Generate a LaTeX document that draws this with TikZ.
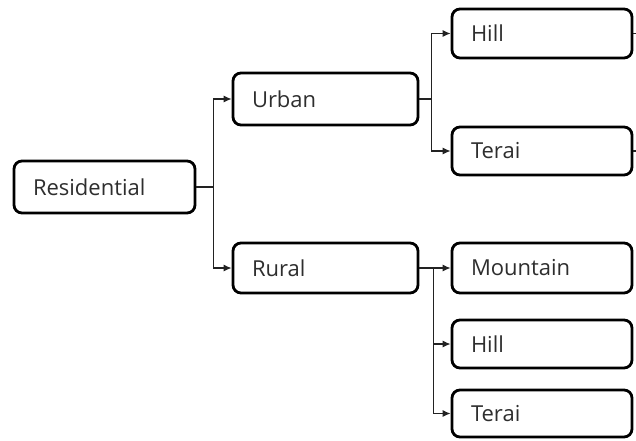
\documentclass[tikz,border=0pt]{standalone}
\usepackage{fontspec}
\setmainfont{Open Sans}
\usetikzlibrary{arrows.meta}
\definecolor{txt}{HTML}{2E2E2E}
\definecolor{ln}{HTML}{222222}
\tikzset{
  box/.style={draw=black, rounded corners=8pt, line width=2.8pt, fill=white,
    inner xsep=19pt, inner ysep=0pt, align=left, text=txt,
    font=\fontsize{22}{25}\selectfont},
  wbox/.style={box, text width=147pt, minimum width=185pt},
  rbox/.style={box, text width=142pt, minimum width=180pt},
  conn/.style={draw=ln, line width=1.2pt, -{Latex[length=8pt,width=7pt]}},
  plain/.style={draw=ln, line width=1.2pt}
}
\begin{document}
\begin{tikzpicture}[x=1pt,y=1pt]
\useasboundingbox (0,0) rectangle (636,440);
\node[box, text width=143pt, minimum width=181pt, minimum height=52pt] (res) at (104.5,253) {Residential};
\node[wbox, minimum height=52pt] (urban) at (325.5,341) {Urban};
\node[wbox, minimum height=50pt] (rural) at (325.5,172) {Rural};
\node[rbox, minimum height=49pt] (hill1) at (542,406.5) {Hill};
\node[rbox, minimum height=48pt] (terai1) at (542,289) {Terai};
\node[rbox, minimum height=50pt] (mount) at (542,172) {Mountain};
\node[rbox, minimum height=48pt] (hill2) at (542,96) {Hill};
\node[rbox, minimum height=47pt] (terai2) at (542,26.5) {Terai};
\coordinate (s1) at (636,406.5);
\coordinate (s2) at (636,289);
\draw[conn] (res.east) -- ++(17,0) |- (urban.west);
\draw[conn] (res.east) -- ++(17,0) |- (rural.west);
\draw[conn] (urban.east) -- ++(12,0) |- (hill1.west);
\draw[conn] (urban.east) -- ++(12,0) |- (terai1.west);
\draw[conn] (rural.east) -- (mount.west);
\draw[conn] (rural.east) -- ++(14,0) |- (hill2.west);
\draw[conn] (rural.east) -- ++(14,0) |- (terai2.west);
\draw[plain] (hill1.east) -- (s1);
\draw[plain] (terai1.east) -- (s2);
\end{tikzpicture}
\end{document}
